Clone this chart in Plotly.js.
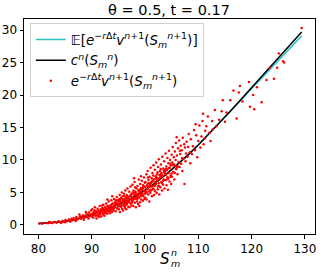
<!DOCTYPE html>
<html><head><meta charset="utf-8">
<script src="https://cdn.plot.ly/plotly-3.0.1.min.js"></script>
<style>html,body{margin:0;padding:0;background:#fff}#chart{width:325px;height:272px}</style>
</head><body><div id="chart"></div>
<script>
// Curves
const gridS = [80,82,84,86,88,90,92,94,96,98,100,102,104,106,108,110,112,114,116,118,120,122,124,126,128,129.4];
const cValues = [0.2,0.3,0.45,0.7,1.05,1.55,2.1,2.75,3.5,4.35,5.35,6.5,7.8,9.2,10.7,12.3,14.0,15.7,17.5,19.3,21.1,22.9,24.7,26.5,28.3,29.7];
const expValues = [0.2,0.3,0.45,0.7,1.05,1.55,2.1,2.75,3.5,4.35,5.35,6.5,7.8,9.2,10.7,12.3,14.0,15.65,17.4,19.2,20.95,22.7,24.4,26.1,27.8,29.1];

// Scatter samples
const sampleS = [
80.2,80.7,81.3,81.8,82.3,82.6,83.0,83.4,83.8,84.1,84.5,84.8,85.1,85.4,85.7,85.9,86.2,86.4,86.6,86.9,87.1,87.3,87.5,87.8,88.0,88.2,88.4,88.6,88.8,89.0,89.1,89.3,89.5,89.6,89.8,89.9,84.3,86.0,87.0,88.5,89.4,82.0,85.0,87.7,88.9,
90.0,90.1,90.2,90.3,90.4,90.5,90.6,90.7,90.8,90.9,91.0,91.1,91.2,91.3,91.4,91.5,91.6,91.7,91.8,91.9,92.0,92.1,92.2,92.3,92.4,92.5,92.6,92.7,92.8,92.9,93.0,93.1,93.2,93.3,93.4,93.5,93.6,93.7,93.8,93.9,94.0,94.1,94.2,94.3,94.4,94.5,94.6,94.7,94.8,94.9,95.0,90.25,90.75,91.25,91.75,92.25,92.75,93.25,93.75,94.25,94.75,91.05,92.05,93.05,94.05,90.55,91.55,92.55,93.55,94.55,92.95,93.85,91.95,
95.05,95.1,95.2,95.25,95.3,95.4,95.45,95.5,95.6,95.65,95.7,95.8,95.85,95.9,96.0,96.05,96.1,96.2,96.25,96.3,96.4,96.45,96.5,96.6,96.65,96.7,96.8,96.85,96.9,97.0,97.05,97.1,97.2,97.25,97.3,97.4,97.45,97.5,97.6,97.65,97.7,97.8,97.85,97.9,98.0,98.05,98.1,98.2,98.25,98.3,98.4,98.45,98.5,98.6,98.65,98.7,98.8,98.85,98.9,99.0,99.05,99.1,99.2,99.25,99.3,99.4,99.45,99.5,99.6,99.65,99.7,99.8,99.85,99.9,100.0,95.15,95.55,95.95,96.35,96.75,97.15,97.55,97.95,98.35,98.75,99.15,99.55,99.95,96.15,97.35,98.15,99.35,98.55,97.75,96.55,95.35,99.75,99.25,98.95,97.95,
100.05,100.1,100.2,100.25,100.3,100.4,100.45,100.5,100.6,100.65,100.7,100.8,100.85,100.9,101.0,101.05,101.1,101.2,101.25,101.3,101.4,101.45,101.5,101.6,101.65,101.7,101.8,101.85,101.9,102.0,102.05,102.1,102.2,102.25,102.3,102.4,102.45,102.5,102.6,102.65,102.7,102.8,102.85,102.9,103.0,103.05,103.1,103.2,103.25,103.3,103.4,103.45,103.5,103.6,103.65,103.7,103.8,103.85,103.9,104.0,104.05,104.1,104.2,104.25,104.3,104.4,104.45,104.5,104.6,104.65,104.7,104.8,104.85,104.9,105.0,100.35,100.75,101.15,101.55,101.95,102.35,102.75,103.15,103.55,103.95,104.35,104.75,100.55,101.35,102.15,102.95,103.75,
105.05,105.1,105.2,105.3,105.4,105.5,105.6,105.7,105.8,105.9,106.0,106.1,106.2,106.3,106.4,106.5,106.6,106.7,106.8,106.9,107.0,107.1,107.2,107.4,107.5,107.6,107.8,108.0,108.2,108.4,105.35,105.75,106.15,106.55,106.95,107.35,107.7,108.1,108.5,105.95,
108.6,108.8,109.0,109.2,109.4,109.6,109.8,110.0,110.2,110.4,110.6,110.8,111.0,111.3,111.5,111.8,112.1,112.6,112.7,113.1,113.4,113.9,114.4,114.6,115.3,116.0,116.6,117.2,117.6,117.8,119.5,119.7,120.3,120.5,121.9,122.8,123.4,124.2,124.8,125.1,125.9,126.1,129.4,111.2,110.9,109.5,112.3,115.0,118.3,121.0
];
const sampleV = [
0.22,0.18,0.3,0.25,0.38,0.28,0.45,0.35,0.55,0.42,0.62,0.5,0.75,0.55,0.85,0.65,0.95,0.7,1.05,0.8,1.2,0.85,1.0,1.35,0.95,1.25,1.5,1.05,1.4,1.75,1.2,1.55,1.9,1.3,1.65,2.2,0.3,0.5,0.6,0.8,1.0,0.45,0.4,1.6,2.0,
1.3,2.4,1.8,1.1,2.0,1.6,2.7,1.4,2.1,1.0,1.9,2.5,1.5,2.2,1.2,2.9,1.8,2.4,1.3,2.0,2.6,1.6,3.1,2.2,1.4,2.7,1.9,3.3,2.3,1.7,2.9,2.1,3.6,2.5,1.8,3.0,2.4,3.8,2.0,2.8,3.3,2.2,4.0,2.7,3.5,2.1,3.1,4.3,2.5,3.7,2.9,1.5,1.7,1.9,2.1,1.8,2.5,2.8,2.6,3.0,3.2,1.4,2.3,2.4,2.6,2.2,1.6,2.0,2.2,3.8,3.9,4.4,3.0,
3.9,2.4,3.3,4.6,2.0,3.6,2.8,4.2,3.0,5.0,2.5,3.7,4.4,2.2,3.4,4.8,2.9,3.9,2.6,5.3,3.5,4.1,2.4,4.6,3.2,5.6,3.8,2.8,4.3,3.6,5.1,2.7,4.0,3.3,5.9,4.5,3.0,4.8,3.7,6.2,4.2,2.9,5.3,3.9,4.6,6.6,3.4,5.0,4.1,2.7,5.6,4.4,3.6,6.0,4.8,3.2,5.3,7.0,4.2,5.0,3.5,6.3,4.6,5.7,3.9,6.8,4.9,5.4,3.7,6.1,4.4,7.3,5.2,4.0,5.8,3.1,3.5,3.8,3.0,4.0,4.4,3.4,4.1,4.7,4.5,5.2,4.7,6.5,4.4,3.9,5.8,5.5,4.0,5.0,3.7,4.0,5.9,7.5,2.9,7.2,
4.2,6.6,5.1,7.8,3.9,6.0,5.5,8.3,4.7,6.9,5.8,3.6,7.4,6.2,4.9,8.8,6.4,5.3,7.2,4.4,8.0,6.7,5.6,9.2,7.0,4.6,6.1,8.5,5.2,7.5,6.3,9.6,4.9,7.8,6.8,5.5,8.9,7.1,10.1,6.0,4.7,8.3,7.3,5.8,9.3,6.6,8.0,5.3,10.5,7.6,6.2,8.7,7.0,9.8,5.6,8.2,6.9,11.0,7.7,9.0,6.1,8.4,10.3,7.3,5.4,9.5,8.0,11.4,6.7,8.8,10.0,7.6,9.2,6.3,10.8,5.0,6.4,5.9,7.6,6.6,8.1,7.7,7.4,8.4,8.6,7.1,9.4,7.3,6.0,7.2,8.6,7.9,
7.4,9.6,12.0,8.2,10.4,7.0,11.3,9.1,12.6,8.6,10.7,7.8,11.8,9.7,13.0,8.9,10.9,12.2,9.4,11.5,8.3,13.4,10.2,6.3,11.9,9.8,12.8,10.5,14.0,11.2,9.3,10.0,9.0,11.4,10.3,12.4,11.0,12.0,9.5,13.5,
13.2,10.9,12.1,14.6,11.5,13.8,10.4,12.9,15.3,11.9,13.6,16.0,12.4,14.5,15.2,16.7,14.2,16.0,14.7,17.7,15.2,16.2,17.5,19.2,17.3,19.2,20.7,16.4,20.4,21.4,22.0,18.2,20.0,17.8,18.9,22.3,24.2,22.5,24.2,26.4,25.2,25.0,30.3,13.3,17.1,15.5,12.9,15.9,19.0,21.2
];
// Dense core of the sample cloud
const coreS = [
92.2,92.6,93.0,93.4,93.8,94.2,94.6,95.0,95.4,95.8,96.2,96.6,97.0,97.4,97.8,98.2,98.6,99.0,99.4,99.8,100.2,100.6,101.0,101.4,101.8,102.2,102.6,103.0,103.4,103.8,104.2,104.6,105.0,105.4,105.8,
92.4,92.8,93.2,93.6,94.0,94.4,94.8,95.2,95.6,96.0,96.4,96.8,97.2,97.6,98.0,98.4,98.8,99.2,99.6,100.0,100.4,100.8,101.2,101.6,102.0,102.4,102.8,103.2,103.6,104.0,104.4,104.8,105.2,105.6,106.0
];
const coreV = [
2.5,2.0,2.9,2.3,3.2,2.6,3.4,3.6,2.9,4.0,3.3,4.3,3.6,4.7,4.0,5.1,4.2,5.4,4.6,5.9,5.0,6.4,5.4,6.8,6.0,7.3,6.4,7.8,6.8,8.4,7.3,8.8,7.9,9.3,8.6,
1.8,2.6,2.1,3.0,2.4,3.3,2.6,3.8,3.0,3.2,4.1,3.5,4.5,3.6,4.9,4.0,5.3,4.4,5.7,4.8,6.1,5.2,6.6,5.5,7.1,5.9,7.6,6.4,8.1,6.9,8.7,7.4,9.2,8.0,8.9
];

const xTicks = [80,90,100,110,120,130];
const yTicks = [0,5,10,15,20,25,30];

const traces = [
  {x: gridS, y: expValues, mode: 'lines', line: {color: '#2ec4c4', width: 1.5},
   name: '𝔼[<i>e</i><sup>−<i>r</i>Δ<i>t</i></sup><i>v</i><sup><i>n</i>+1</sup>(<i>S</i><sub><i>m</i></sub><sup><i>n</i>+1</sup>)]'},
  {x: gridS, y: cValues, mode: 'lines', line: {color: '#000000', width: 1.5},
   name: '<i>c</i><sup><i>n</i></sup>(<i>S</i><sub><i>m</i></sub><sup><i>n</i></sup>)'},
  {x: sampleS.concat(coreS), y: sampleV.concat(coreV), mode: 'markers', marker: {color: '#ff0000', size: 2.5},
   name: '<i>e</i><sup>−<i>r</i>Δ<i>t</i></sup><i>v</i><sup><i>n</i>+1</sup>(<i>S</i><sub><i>m</i></sub><sup><i>n</i>+1</sup>)'}
];

const axisCommon = {showline: true, linecolor: '#000', linewidth: 1, mirror: true,
  ticks: 'outside', ticklen: 3.5, tickcolor: '#000', showgrid: false, zeroline: false,
  tickfont: {family: 'DejaVu Sans', size: 12, color: '#000'}};

const layout = {
  width: 325, height: 272,
  margin: {l: 24, r: 10, t: 19, b: 38},
  paper_bgcolor: '#fff', plot_bgcolor: '#fff',
  font: {family: 'DejaVu Sans', color: '#000'},
  title: {text: 'θ = 0.5, t = 0.17', font: {family: 'DejaVu Sans', size: 14.5, color: '#000'},
          x: 0.52, xanchor: 'center', yref: 'container', y: 0.962, yanchor: 'middle'},
  xaxis: Object.assign({}, axisCommon, {range: [77.3, 131.9], tickvals: xTicks, ticktext: xTicks.map(String)}),
  yaxis: Object.assign({}, axisCommon, {range: [-1.4, 31.7], tickvals: yTicks, ticktext: yTicks.map(String)}),
  showlegend: true,
  legend: {x: 0.02, y: 0.98, xanchor: 'left', yanchor: 'top', bgcolor: 'rgba(255,255,255,0.8)',
           bordercolor: '#d0d0d0', borderwidth: 1, font: {family: 'DejaVu Sans', size: 13.5, color: '#000'},
           itemwidth: 30, tracegroupgap: 0},
  annotations: [
    {xref: 'paper', yref: 'paper', x: 0.4845, y: 0, yshift: -25, xanchor: 'center', yanchor: 'middle', showarrow: false,
     text: '<i>S</i>', font: {family: 'DejaVu Sans', size: 15, color: '#000'}},
    {xref: 'paper', yref: 'paper', x: 0.5, y: 0, yshift: -18, xanchor: 'left', yanchor: 'middle', showarrow: false,
     borderpad: 0, text: '<i>n</i>', font: {family: 'DejaVu Sans', size: 9.5, color: '#000'}},
    {xref: 'paper', yref: 'paper', x: 0.5, y: 0, yshift: -29, xanchor: 'left', yanchor: 'middle', showarrow: false,
     borderpad: 0, text: '<i>m</i>', font: {family: 'DejaVu Sans', size: 9.5, color: '#000'}}
  ]
};
Plotly.newPlot('chart', traces, layout, {displayModeBar: false, staticPlot: true});
</script></body></html>
